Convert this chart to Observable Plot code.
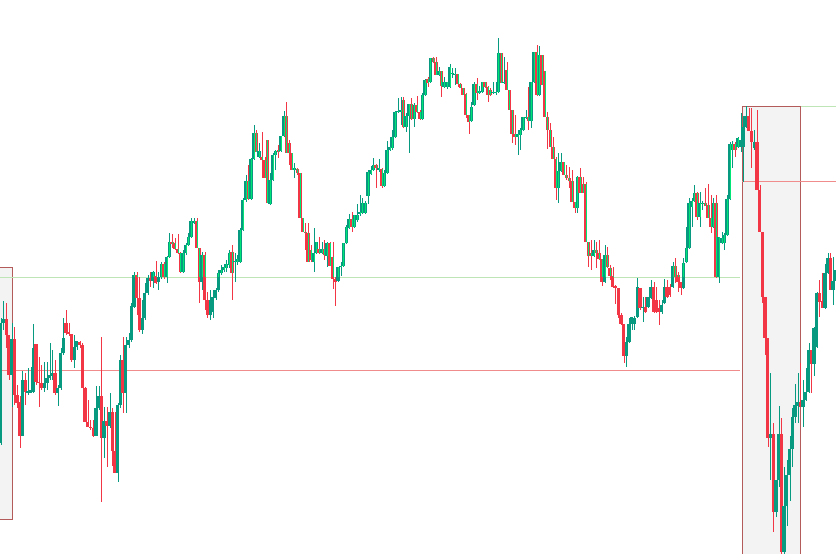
<!DOCTYPE html>
<html><head><meta charset="utf-8">
<script src="https://cdn.jsdelivr.net/npm/d3@7"></script>
<script src="https://cdn.jsdelivr.net/npm/@observablehq/plot@0.6"></script>
<style>html,body{margin:0;padding:0;background:#fff;overflow:hidden}svg{display:block}</style>
</head><body><div id="chart"></div>
<script>
// OHLC price points, one entry per candle (index = bar number)
const open = [
111,231,235,219,179,215,159,152,118,174, 161,161,162,210,172,171,166,171,176,178,
181,161,166,201,231,222,220,194,207,212, 209,166,132,127,126,118,146,158,116,133,
128,142,103,81,149,194,161,209, 214,247,
279,256,224,236,261,276,273,278,272,277, 290,277,297,312,311,305,301,282,301,309,
317,331,333,306,272,299,254,239,242,256, 264,281,284,286,289,302,
292,292,292,324, 354,373,355,395,421,397,397,394,414,350, 374,399,404,403,418,438,411,401,384,385,
381,336,322,321,304,292,301,305,301,305, 298,311,297,275,273,287,288,311,326,
335,327,334,340,341,341,358,380,384,389,384, 385,368,381,404,406,417,442,442,454,427,
438,450,435,449,442,435,459,
475,472,496,492,479,483,467,467,467,480,479,480,470, 466,460,439,433,449,470,461,462,472,467,
464,461,461,462,501,471,484,464,444,420, 417,419,424,436,437,433,472,502,459,499,483,437,
424,407,395,366,383,392,379,376, 373,352,346,377,370,370,312,301,298,304,
301,295,272,299,286,278,268,266,239,230, 198,212,230,230,237,266,246,247,247,256,
267,254,246,242,251,267,
267,267,288,279, 272,266,292,306,347,353,361,337,350,351, 349,336,327,351,277,311,311,319,355,404,
410,407,407,407,427,438,423,406,412,364,
322,257,216,116,120,42,74,120,2,48, 79,105,137,148,152,147,154,162,204,190, 207,261,253,246,281,296,264,273
];
const high = [
236,253,251,219,231,227,169,158,183,181, 186,187,230,210,197,189,192,192,211,204,
194,169,206,236,244,231,220,219,213,213, 211,167,154,134,134,168,168,217,147,147,
161,146,142,151,199,217,217,221, 251,282,
282,277,254,271,279,282,283,293,282,292, 292,298,321,320,316,320,302,304,311,321,
336,336,336,306,302,302,262,264,264,266, 284,289,290,294,304,309,
301,299,326,356, 379,389,396,429,424,411,422,397,414,381, 401,404,409,418,443,452,414,401,391,386,
381,336,331,331,309,326,312,317,312,314, 312,312,312,277,287,292,311,329,340,
342,339,350,359,356,353,384,388,396,390,395, 386,384,413,417,424,443,456,457,457,441,
450,456,451,458,444,461,475,
477,496,497,497,487,483,477,472,490,486,486,480,471, 466,461,439,452,472,476,468,472,472,468,
466,472,472,516,501,497,492,464,444,439, 424,426,437,444,467,472,502,509,508,499,483,442,
431,417,397,401,401,392,389,387, 384,352,378,386,377,372,312,314,314,312,
314,295,309,307,289,287,269,266,241,230, 217,236,237,238,276,266,257,257,257,274,
272,267,254,254,275,274,
270,292,296,282, 272,296,327,356,356,369,362,362,353,366, 370,359,356,359,317,322,321,359,412,413,
412,417,441,438,448,446,446,424,444,369,
322,257,216,181,131,74,148,136,87,94, 118,146,170,181,191,174,186,211,204,227, 262,274,281,290,301,301,297,304
];
const low = [
109,224,206,174,147,149,146,106,118,149, 159,161,161,169,147,164,162,164,174,174,
159,148,164,199,219,218,192,186,204,206, 166,132,127,124,117,118,144,52,96,87,
126,88,81,72,146,141,141,206, 212,246,
239,222,220,234,259,267,266,270,264,275, 275,271,296,306,304,300,281,281,299,308,
316,330,306,251,264,244,236,234,236,254, 262,279,282,282,286,254,
272,289,291,323, 352,354,354,394,402,396,376,376,351,349, 373,384,396,402,417,401,389,384,376,379,
336,322,304,292,292,282,300,300,300,294, 287,288,265,248,272,278,287,310,325,
322,326,332,338,340,340,350,379,383,366,382, 366,367,380,403,404,416,441,429,426,422,
401,434,427,441,434,434,458,
467,471,491,479,478,457,466,465,466,476,469,467,466, 459,436,420,432,448,454,460,461,466,452,
458,460,459,461,471,470,464,444,411,409, 399,404,423,435,424,426,471,458,458,469,437,405,
407,395,354,351,382,379,374,366, 352,341,341,361,361,312,287,284,297,286,
294,268,271,286,274,266,250,236,229,191, 187,211,224,224,236,244,232,241,246,255,
241,241,229,240,250,256,
257,266,271,262, 259,265,291,305,327,352,334,327,344,348, 336,321,326,276,271,310,304,318,354,386,
397,406,402,372,426,423,386,404,364,322,
251,199,107,74,22,37,67,0,0,28, 53,87,131,131,147,127,153,161,161,178, 206,237,246,245,280,264,249,269
];
const close = [
231,235,219,179,215,159,151,118,174,162, 163,164,206,172,171,166,171,176,179,181,
161,166,201,216,221,220,194,207,213,209, 166,132,127,126,118,146,158,116,133,128,
142,103,81,149,194,161,209,214, 248,279,
256,224,236,261,276,273,282,271,277,290, 277,297,312,310,305,301,282,301,309,317,
333,333,306,272,299,254,239,254,257,264, 281,284,287,290,301,281,
293,295,324,354, 373,355,395,421,402,403,394,376,351,374, 399,403,402,418,438,401,401,384,386,381,
336,322,321,292,294,301,312,301,305,299, 311,288,275,272,287,288,311,327,335,
327,339,339,342,351,351,382,384,389,386,386, 368,381,404,407,417,442,443,444,427,438,
450,435,449,442,435,459,474,
471,496,492,479,483,468,472,472,487,481,480,470,466, 459,439,432,447,470,461,463,472,467,459,
459,462,462,501,471,472,464,444,420,417, 420,424,437,437,433,472,502,459,499,469,437,424,
407,395,366,383,392,379,376,373, 352,346,377,361,361,312,298,298,304,301,
295,272,299,287,278,267,266,239,230,198, 212,230,237,236,267,246,247,242,257,267,
242,242,242,249,267,257,
259,288,277,272, 266,291,306,351,353,361,337,351,351,348, 336,327,351,277,317,316,319,355,410,410,
404,416,414,427,438,423,412,412,364,322,
257,216,116,120,42,74,120,2,48,79, 105,137,149,152,147,154,162,204,190,226, 261,252,246,281,296,264,273,284
];

// Shaded zones (bar-index span, price span)
const zoneFrom   = [-0.26, 272.65];
const zoneTo     = [4.34, 294.12];
const zoneTop    = [287, 448];
const zoneBottom = [35, -12];

// Horizontal levels (bar-index span, price)
const greenFrom  = [-0.26, 294.12];
const greenTo    = [271.8, 308];
const greenPrice = [277, 448];
const redFrom    = [-0.26, 272.65];
const redTo      = [271.8, 308];
const redPrice   = [184, 373];

const UP = "#089981", DOWN = "#f23645", HI = "#00e676";

const candles = open.map((o, i) => {
  const c = close[i];
  let lo = Math.min(o, c), hi = Math.max(o, c);
  if (hi - lo < 1) hi = lo + 1;
  return {i, o, h: high[i], l: low[i], c, lo, hi, color: c >= o ? UP : DOWN};
});
const levelFor = i => (i <= greenTo[0] ? greenPrice[0] : greenPrice[1]);
const highlight = candles
  .filter(d => d.hi > levelFor(d.i))
  .map(d => ({i: d.i, y1: Math.max(d.lo, levelFor(d.i)), y2: d.hi}));

const zones = zoneFrom.map((f, k) => ({from: f, to: zoneTo[k], top: zoneTop[k], bottom: zoneBottom[k]}));
const greens = greenFrom.map((f, k) => ({from: f, to: greenTo[k], price: greenPrice[k]}));
const reds = redFrom.map((f, k) => ({from: f, to: redTo[k], price: redPrice[k]}));

const crisp = {shapeRendering: "crispEdges"};
const chart = Plot.plot({
  width: 836, height: 554, margin: 0,
  style: {background: "#ffffff"},
  x: {domain: [-0.257, 307.09], axis: null},
  y: {domain: [0, 554], axis: null},
  marks: [
    Plot.rect(zones, {x1: "from", x2: "to", y1: "bottom", y2: "top", fill: "#f3f3f3", stroke: "#b35a5a", strokeWidth: 1, clip: true, ...crisp}),
    Plot.ruleY(greens, {x1: "from", x2: "to", y: "price", stroke: "#bde5b6", strokeWidth: 1, ...crisp}),
    Plot.ruleY(reds, {x1: "from", x2: "to", y: "price", stroke: "#f08c8c", strokeWidth: 1, ...crisp}),
    Plot.ruleX(candles, {x: "i", y1: "l", y2: "h", stroke: "color", strokeWidth: 1, ...crisp}),
    Plot.rect(candles, {x1: d => d.i - 0.6, x2: d => d.i + 0.6, y1: "lo", y2: "hi", fill: "color", ...crisp}),
    Plot.ruleX(highlight, {x: "i", y1: "y1", y2: "y2", stroke: HI, strokeWidth: 1, ...crisp})
  ]
});
document.getElementById("chart").appendChild(chart);
</script>
</body></html>
